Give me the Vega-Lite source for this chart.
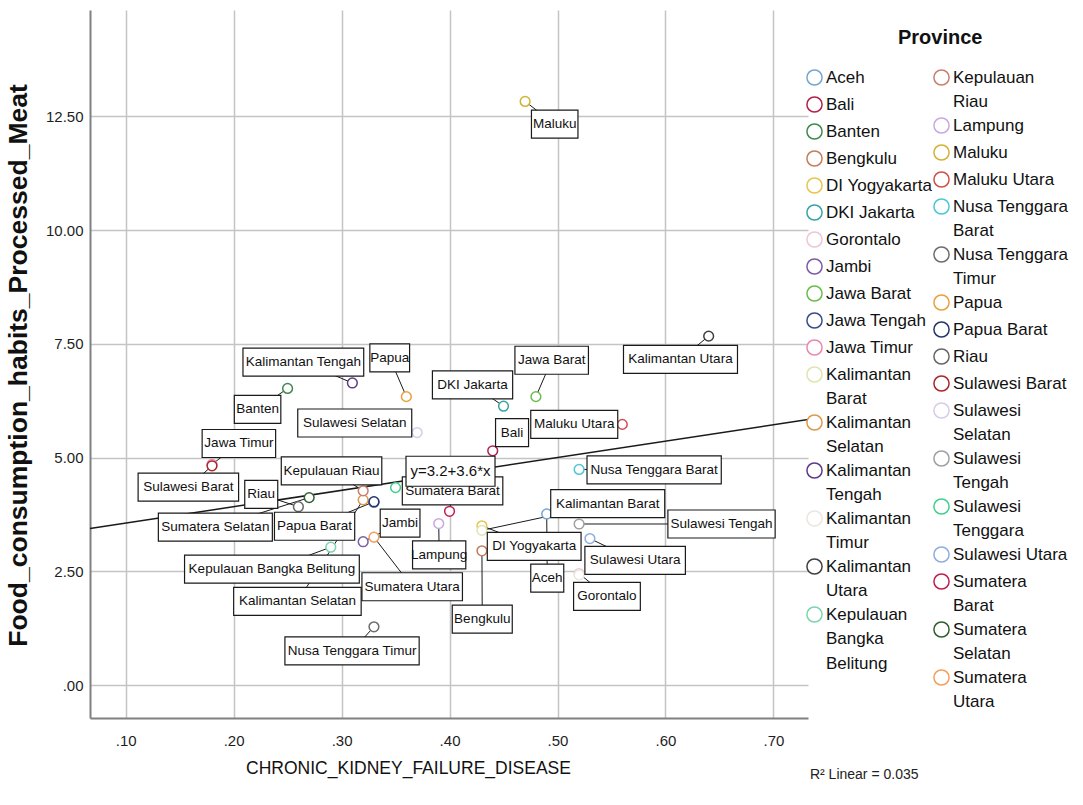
{
  "$schema": "https://vega.github.io/schema/vega-lite/v6.json",
  "width": 718,
  "height": 708,
  "autosize": "none",
  "padding": {"left": 90, "top": 10, "right": 275, "bottom": 77},
  "background": "white",
  "config": {
    "view": {"stroke": null},
    "font": "Liberation Sans, Arial, sans-serif",
    "style": {"guide-label": {"lineHeight": 24.5}},
    "axis": {
      "grid": true,
      "gridColor": "#c4c4c4",
      "gridWidth": 1.5,
      "domainColor": "#808080",
      "domainWidth": 2,
      "ticks": false,
      "labelColor": "#1e1e1e",
      "labelFontSize": 15,
      "titleColor": "#111111"
    }
  },
  "title": {
    "text": "Province",
    "anchor": "start",
    "frame": "group",
    "offset": 0,
    "dx": 808,
    "dy": 54,
    "baseline": "alphabetic",
    "fontSize": 20,
    "fontWeight": "bold",
    "color": "#111111"
  },
  "datasets": {
    "provinces": [
      {"Province": "Aceh", "CKD": 0.49, "Meat": 3.76, "labelX": 0.4905, "labelY": 2.35},
      {"Province": "Bali", "CKD": 0.44, "Meat": 5.15, "labelX": 0.4579, "labelY": 5.55},
      {"Province": "Banten", "CKD": 0.25, "Meat": 6.52, "labelX": 0.2222, "labelY": 6.06},
      {"Province": "Bengkulu", "CKD": 0.43, "Meat": 2.95, "labelX": 0.4303, "labelY": 1.45},
      {"Province": "DI Yogyakarta", "CKD": 0.43, "Meat": 3.5, "labelX": 0.4784, "labelY": 3.05},
      {"Province": "DKI Jakarta", "CKD": 0.45, "Meat": 6.13, "labelX": 0.4213, "labelY": 6.6},
      {"Province": "Gorontalo", "CKD": 0.52, "Meat": 2.45, "labelX": 0.5458, "labelY": 1.95},
      {"Province": "Jambi", "CKD": 0.32, "Meat": 3.15, "labelX": 0.3542, "labelY": 3.56},
      {"Province": "Jawa Barat", "CKD": 0.48, "Meat": 6.34, "labelX": 0.4946, "labelY": 7.14},
      {"Province": "Jawa Tengah", "CKD": 0.33, "Meat": 4.02},
      {"Province": "Jawa Timur", "CKD": 0.18, "Meat": 4.85, "labelX": 0.2049, "labelY": 5.31},
      {"Province": "Kalimantan Barat", "CKD": 0.43, "Meat": 3.4, "labelX": 0.5465, "labelY": 3.99},
      {"Province": "Kalimantan Selatan", "CKD": 0.32, "Meat": 4.07, "labelX": 0.2591, "labelY": 1.84},
      {"Province": "Kalimantan Tengah", "CKD": 0.31, "Meat": 6.64, "labelX": 0.2646, "labelY": 7.1},
      {"Province": "Kalimantan Timur", "CKD": 0.52, "Meat": 2.42},
      {"Province": "Kalimantan Utara", "CKD": 0.64, "Meat": 7.67, "labelX": 0.6139, "labelY": 7.16},
      {"Province": "Kepulauan Bangka Belitung", "CKD": 0.29, "Meat": 3.03, "labelX": 0.2355, "labelY": 2.55},
      {"Province": "Kepulauan Riau", "CKD": 0.32, "Meat": 4.27, "labelX": 0.2907, "labelY": 4.71},
      {"Province": "Lampung", "CKD": 0.39, "Meat": 3.55, "labelX": 0.3904, "labelY": 2.86},
      {"Province": "Maluku", "CKD": 0.47, "Meat": 12.83, "labelX": 0.4974, "labelY": 12.33},
      {"Province": "Maluku Utara", "CKD": 0.56, "Meat": 5.73, "labelX": 0.5155, "labelY": 5.73},
      {"Province": "Nusa Tenggara Barat", "CKD": 0.52, "Meat": 4.74, "labelX": 0.5895, "labelY": 4.73},
      {"Province": "Nusa Tenggara Timur", "CKD": 0.33, "Meat": 1.28, "labelX": 0.3097, "labelY": 0.75},
      {"Province": "Papua", "CKD": 0.36, "Meat": 6.34, "labelX": 0.3446, "labelY": 7.19},
      {"Province": "Papua Barat", "CKD": 0.33, "Meat": 4.03, "labelX": 0.275, "labelY": 3.49},
      {"Province": "Riau", "CKD": 0.26, "Meat": 3.92, "labelX": 0.2256, "labelY": 4.19},
      {"Province": "Sulawesi Barat", "CKD": 0.18, "Meat": 4.82, "labelX": 0.1581, "labelY": 4.35},
      {"Province": "Sulawesi Selatan", "CKD": 0.37, "Meat": 5.55, "labelX": 0.3122, "labelY": 5.76},
      {"Province": "Sulawesi Tengah", "CKD": 0.52, "Meat": 3.54, "labelX": 0.6519, "labelY": 3.54},
      {"Province": "Sulawesi Tenggara", "CKD": 0.35, "Meat": 4.34},
      {"Province": "Sulawesi Utara", "CKD": 0.53, "Meat": 3.22, "labelX": 0.5719, "labelY": 2.74},
      {"Province": "Sumatera Barat", "CKD": 0.4, "Meat": 3.82, "labelX": 0.4028, "labelY": 4.27},
      {"Province": "Sumatera Selatan", "CKD": 0.27, "Meat": 4.12, "labelX": 0.1831, "labelY": 3.47},
      {"Province": "Sumatera Utara", "CKD": 0.33, "Meat": 3.25, "labelX": 0.3654, "labelY": 2.16}
    ],
    "fit": [
      {"CKD": 0.067, "Meat": 3.4412},
      {"CKD": 0.732, "Meat": 5.8352}
    ],
    "fitLabel": [
      {"CKD": 0.4009, "Meat": 4.7, "text": "y=3.2+3.6*x"}
    ],
    "fitNote": [
      {"CKD": 0.7338, "Meat": -1.98, "text": "R² Linear = 0.035"}
    ]
  },
  "layer": [
    {
      "data": {"name": "fit"},
      "mark": {"type": "line", "color": "#1a1a1a", "strokeWidth": 1.5},
      "encoding": {
        "x": {
          "field": "CKD", "type": "quantitative",
          "scale": {"domain": [0.067, 0.732], "nice": false, "zero": false},
          "axis": {
            "title": "CHRONIC_KIDNEY_FAILURE_DISEASE",
            "values": [0.1, 0.2, 0.3, 0.4, 0.5, 0.6, 0.7],
            "labelExpr": "substring(format(datum.value, '.2f'), 1)",
            "labelPadding": 15,
            "titleFontSize": 17.5,
            "titleFontWeight": "normal",
            "titleX": 318,
            "titleY": 50,
            "titleAlign": "center",
            "titleBaseline": "middle"
          }
        },
        "y": {
          "field": "Meat", "type": "quantitative",
          "scale": {"domain": [-0.725, 14.84], "nice": false, "zero": false},
          "axis": {
            "title": "Food_consumption_habits_Processed_Meat",
            "values": [0, 2.5, 5, 7.5, 10, 12.5],
            "labelExpr": "datum.value == 0 ? '.00' : format(datum.value, '.2f')",
            "labelPadding": 7,
            "titleFontSize": 26.5,
            "titleFontWeight": "bold",
            "titleAngle": -90,
            "titleX": -72,
            "titleY": 355,
            "titleAlign": "center",
            "titleBaseline": "middle"
          }
        }
      }
    },
    {
      "data": {"name": "provinces"},
      "transform": [{"filter": "isValid(datum.labelX)"}],
      "mark": {"type": "rule", "color": "#1a1a1a", "strokeWidth": 1},
      "encoding": {
        "x": {"field": "CKD", "type": "quantitative"},
        "y": {"field": "Meat", "type": "quantitative"},
        "x2": {"field": "labelX"},
        "y2": {"field": "labelY"}
      }
    },
    {
      "data": {"name": "provinces"},
      "transform": [{"filter": {"field": "Province", "oneOf": ["Aceh", "Bali", "Banten", "Bengkulu", "DI Yogyakarta", "DKI Jakarta", "Gorontalo", "Jambi", "Jawa Barat", "Jawa Tengah", "Jawa Timur", "Kalimantan Barat", "Kalimantan Selatan", "Kalimantan Tengah", "Kalimantan Timur", "Kalimantan Utara", "Kepulauan Bangka Belitung"]}}],
      "mark": {"type": "point", "shape": "circle", "filled": false, "fill": "white", "fillOpacity": 1, "strokeWidth": 1.5, "size": 95},
      "encoding": {
        "x": {"field": "CKD", "type": "quantitative"},
        "y": {"field": "Meat", "type": "quantitative"},
        "color": {
          "field": "Province", "type": "nominal",
          "scale": {
            "domain": ["Aceh", "Bali", "Banten", "Bengkulu", "DI Yogyakarta", "DKI Jakarta", "Gorontalo", "Jambi", "Jawa Barat", "Jawa Tengah", "Jawa Timur", "Kalimantan Barat", "Kalimantan Selatan", "Kalimantan Tengah", "Kalimantan Timur", "Kalimantan Utara", "Kepulauan Bangka Belitung"],
            "range": ["#76a6cf", "#b0224c", "#3f8a4e", "#c27e5e", "#e6c64e", "#3aa3a3", "#efc6d6", "#7a5ca8", "#6cbd4e", "#3b4c8c", "#e88ab0", "#dfe5b0", "#d99c4e", "#5b3c88", "#ebe6e2", "#404040", "#7dd4ae"]
          },
          "legend": {
            "title": null,
            "orient": "none",
            "legendX": 716,
            "legendY": 59,
            "padding": 0,
            "symbolType": "circle",
            "symbolSize": 230,
            "symbolStrokeWidth": 1.5,
            "symbolFillColor": "white",
            "labelFontSize": 17,
            "labelColor": "#111111",
            "labelOffset": 3,
            "labelLimit": 300,
            "rowPadding": 4,
            "labelExpr": "indexof(datum.label, 'Kalimantan ') == 0 ? ['Kalimantan', substring(datum.label, 11)] : datum.label == 'Kepulauan Bangka Belitung' ? ['Kepulauan', 'Bangka', 'Belitung'] : datum.label"
          }
        }
      }
    },
    {
      "data": {"name": "provinces"},
      "transform": [{"filter": {"field": "Province", "oneOf": ["Kepulauan Riau", "Lampung", "Maluku", "Maluku Utara", "Nusa Tenggara Barat", "Nusa Tenggara Timur", "Papua", "Papua Barat", "Riau", "Sulawesi Barat", "Sulawesi Selatan", "Sulawesi Tengah", "Sulawesi Tenggara", "Sulawesi Utara", "Sumatera Barat", "Sumatera Selatan", "Sumatera Utara"]}}],
      "mark": {"type": "point", "shape": "circle", "filled": false, "fill": "white", "fillOpacity": 1, "strokeWidth": 1.5, "size": 95},
      "encoding": {
        "x": {"field": "CKD", "type": "quantitative"},
        "y": {"field": "Meat", "type": "quantitative"},
        "stroke": {
          "field": "Province", "type": "nominal",
          "scale": {
            "domain": ["Kepulauan Riau", "Lampung", "Maluku", "Maluku Utara", "Nusa Tenggara Barat", "Nusa Tenggara Timur", "Papua", "Papua Barat", "Riau", "Sulawesi Barat", "Sulawesi Selatan", "Sulawesi Tengah", "Sulawesi Tenggara", "Sulawesi Utara", "Sumatera Barat", "Sumatera Selatan", "Sumatera Utara"],
            "range": ["#c8806e", "#c8a8e2", "#d2b234", "#d0504e", "#4ec6d6", "#6e6e6e", "#e8a03e", "#26366e", "#686868", "#a8282a", "#d8cce8", "#a0a0a0", "#42d08e", "#8eaee0", "#c02050", "#30602f", "#f0a060"]
          },
          "legend": {
            "title": null,
            "orient": "none",
            "legendX": 843,
            "legendY": 59,
            "padding": 0,
            "symbolType": "circle",
            "symbolSize": 230,
            "symbolStrokeWidth": 1.5,
            "symbolFillColor": "white",
            "labelFontSize": 17,
            "labelColor": "#111111",
            "labelOffset": 3,
            "labelLimit": 300,
            "rowPadding": 4,
            "labelExpr": "indexof(['Kepulauan Riau', 'Nusa Tenggara Barat', 'Nusa Tenggara Timur', 'Sulawesi Selatan', 'Sulawesi Tengah', 'Sulawesi Tenggara', 'Sumatera Barat', 'Sumatera Selatan', 'Sumatera Utara'], datum.label) >= 0 ? [substring(datum.label, 0, lastindexof(datum.label, ' ')), substring(datum.label, lastindexof(datum.label, ' ') + 1)] : datum.label"
          }
        }
      }
    },
    {
      "data": {"name": "provinces"},
      "transform": [{"filter": "isValid(datum.labelX)"}],
      "mark": {"type": "rect", "fill": "white", "stroke": "#1a1a1a", "strokeWidth": 1.2, "height": 28, "width": {"expr": "6.75*length(datum.Province)+6"}},
      "encoding": {
        "x": {"field": "labelX", "type": "quantitative"},
        "y": {"field": "labelY", "type": "quantitative"}
      }
    },
    {
      "data": {"name": "provinces"},
      "transform": [{"filter": "isValid(datum.labelX)"}],
      "mark": {"type": "text", "fontSize": 13.5, "align": "center", "baseline": "middle", "color": "#111111"},
      "encoding": {
        "x": {"field": "labelX", "type": "quantitative"},
        "y": {"field": "labelY", "type": "quantitative"},
        "text": {"field": "Province"}
      }
    },
    {
      "data": {"name": "fitLabel"},
      "mark": {"type": "rect", "fill": "white", "stroke": "#1a1a1a", "strokeWidth": 1.2, "height": 30, "width": 89},
      "encoding": {
        "x": {"field": "CKD", "type": "quantitative"},
        "y": {"field": "Meat", "type": "quantitative"}
      }
    },
    {
      "data": {"name": "fitLabel"},
      "mark": {"type": "text", "fontSize": 15, "align": "center", "baseline": "middle", "color": "#111111"},
      "encoding": {
        "x": {"field": "CKD", "type": "quantitative"},
        "y": {"field": "Meat", "type": "quantitative"},
        "text": {"field": "text"}
      }
    },
    {
      "data": {"name": "fitNote"},
      "mark": {"type": "text", "fontSize": 14, "align": "left", "baseline": "middle", "color": "#222222"},
      "encoding": {
        "x": {"field": "CKD", "type": "quantitative"},
        "y": {"field": "Meat", "type": "quantitative"},
        "text": {"field": "text"}
      }
    }
  ]
}
